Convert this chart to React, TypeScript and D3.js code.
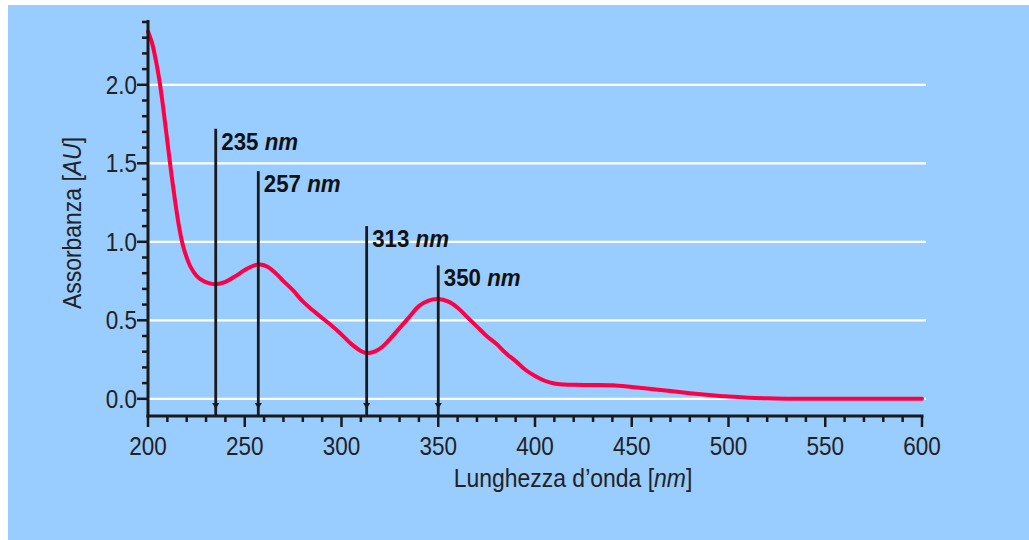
import React from "react";
import * as d3 from "d3";

const wavelengths = [
  200, 202, 204, 206, 208, 210, 212, 214, 216, 218, 220, 222, 225, 228, 231, 235,
  240, 245, 250, 255, 258, 262, 266, 270, 275, 280, 285, 290, 295, 300, 305, 310,
  313, 317, 321, 325, 330, 335, 340, 345, 350, 355, 360, 365, 370, 375, 380, 385,
  390, 395, 400, 405, 410, 415, 420, 430, 440, 450, 460, 470, 480, 490, 500, 510,
  520, 530, 540, 550, 575, 600,
];
const absorbance = [
  2.34, 2.27, 2.16, 2.02, 1.84, 1.64, 1.44, 1.26, 1.1, 0.98, 0.9, 0.84, 0.785, 0.755, 0.738, 0.73,
  0.745, 0.78, 0.82, 0.85, 0.855, 0.84, 0.8, 0.75, 0.69, 0.62, 0.565, 0.515, 0.465, 0.41, 0.35, 0.305,
  0.29, 0.3, 0.33, 0.38, 0.45, 0.52, 0.59, 0.625, 0.635, 0.62, 0.58, 0.52, 0.46, 0.4, 0.35, 0.29,
  0.24, 0.185, 0.145, 0.115, 0.097, 0.091, 0.089, 0.088, 0.086, 0.075, 0.062, 0.049, 0.036, 0.024, 0.014, 0.007,
  0.003, 0.001, 0, 0, 0, 0,
];

const peakWavelengths = [235, 257, 313, 350];
const peakMarkerTops = [1.72, 1.45, 1.1, 0.85];

const xMajorTicks = [200, 250, 300, 350, 400, 450, 500, 550, 600];
const yMajorTicks = [0, 0.5, 1, 1.5, 2];
const yTickLabels = ["0.0", "0.5", "1.0", "1.5", "2.0"];

const xTitle = "Lunghezza d\u2019onda [";
const xTitleUnit = "nm";
const yTitle = "Assorbanza [";
const yTitleUnit = "AU";

const FONT = "'Liberation Sans', Arial, Helvetica, sans-serif";

export default function App() {
  const x = d3.scaleLinear().domain([200, 600]).range([148, 922]);
  const y = d3.scaleLinear().domain([-0.1, 2.4]).range([414.5, 22]);

  const xMinor = d3.range(200, 601, 10);
  const yMinor = d3.range(0, 24.01, 1).map((v) => v / 10);

  const line = d3
    .line<number>()
    .x((_, i) => x(wavelengths[i]))
    .y((d) => y(d))
    .curve(d3.curveCatmullRom.alpha(0.5));

  const axisY = 416;
  const axisX = 148;
  const axisColor = "#1a1a1a";

  return (
    <div style={{ position: "absolute", left: 0, top: 0 }}>
      <svg width={1029} height={540} style={{ display: "block" }}>
        <rect x={0} y={0} width={1029} height={540} fill="#ffffff" />
        <rect x={8} y={5} width={1021} height={535} fill="#99ccff" />

        {/* grid */}
        {yMajorTicks.map((t) => (
          <line key={"g" + t} x1={axisX} x2={926} y1={y(t)} y2={y(t)} stroke="#ffffff" strokeWidth={2.2} />
        ))}

        {/* curve */}
        <path d={line(absorbance) || ""} fill="none" stroke="#ff0045" strokeWidth={4} strokeLinejoin="round" strokeLinecap="round" />

        {/* peak markers */}
        {peakWavelengths.map((w, i) => {
          const px = x(w);
          const top = y(peakMarkerTops[i]);
          return (
            <g key={"p" + w}>
              <line x1={px} x2={px} y1={top} y2={axisY} stroke={axisColor} strokeWidth={2.8} />
              <path d={`M${px - 3.5},${403} L${px + 3.5},${403} L${px},${409} Z`} fill={axisColor} />
              <text
                transform={`translate(${px + 5.5},${top + 21}) scale(0.95,1)`}
                fontFamily={FONT}
                fontSize={23.5}
                fontWeight="bold"
                fill="#111"
              >
                {w}
                <tspan fontStyle="italic">{" nm"}</tspan>
              </text>
            </g>
          );
        })}

        {/* y axis */}
        <line x1={axisX} x2={axisX} y1={20} y2={axisY + 1.5} stroke={axisColor} strokeWidth={3} />
        {yMinor.map((t) => {
          const major = yMajorTicks.some((m) => Math.abs(m - t) < 1e-6);
          return (
            <line
              key={"yt" + t}
              x1={axisX - (major ? 11 : 6)}
              x2={axisX}
              y1={y(t)}
              y2={y(t)}
              stroke={axisColor}
              strokeWidth={2.5}
            />
          );
        })}
        {yMajorTicks.map((t, i) => (
          <text
            key={"yl" + t}
            transform={`translate(${137},${y(t) + 9}) scale(0.9,1)`}
            textAnchor="end"
            fontFamily={FONT}
            fontSize={25}
            fill="#222"
          >
            {yTickLabels[i]}
          </text>
        ))}

        {/* x axis */}
        <line x1={axisX - 1.5} x2={x(600) + 1.5} y1={axisY} y2={axisY} stroke={axisColor} strokeWidth={3} />
        {xMinor.map((t) => {
          const major = t % 50 === 0;
          return (
            <line
              key={"xt" + t}
              x1={x(t)}
              x2={x(t)}
              y1={axisY}
              y2={axisY + (major ? 11 : 6)}
              stroke={axisColor}
              strokeWidth={2.5}
            />
          );
        })}
        {xMajorTicks.map((t) => (
          <text
            key={"xl" + t}
            transform={`translate(${x(t)},${455}) scale(0.9,1)`}
            textAnchor="middle"
            fontFamily={FONT}
            fontSize={25}
            fill="#222"
          >
            {t}
          </text>
        ))}

        {/* titles */}
        <text
          transform={`translate(${573},${487}) scale(0.9,1)`}
          textAnchor="middle"
          fontFamily={FONT}
          fontSize={25.5}
          fill="#222"
        >
          {xTitle}
          <tspan fontStyle="italic">{xTitleUnit}</tspan>]
        </text>
        <text
          transform={`translate(${81},${223}) rotate(-90) scale(0.9,1)`}
          textAnchor="middle"
          fontFamily={FONT}
          fontSize={25.5}
          fill="#222"
        >
          {yTitle}
          <tspan fontStyle="italic">{yTitleUnit}</tspan>]
        </text>
      </svg>
    </div>
  );
}
